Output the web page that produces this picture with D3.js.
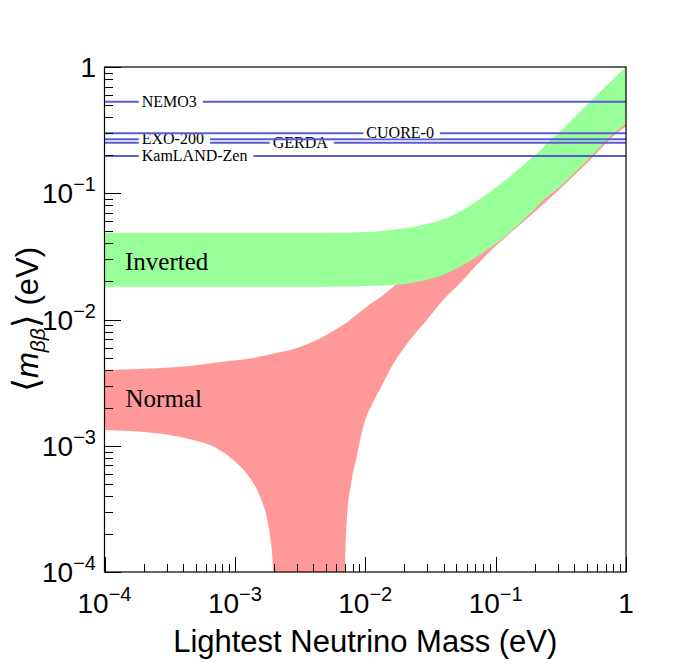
<!DOCTYPE html>
<html lang="en">
<head>
<meta charset="utf-8">
<title>Effective Majorana mass vs lightest neutrino mass</title>
<script src="https://d3js.org/d3.v7.min.js"></script>
<style>
  body { margin: 0; background: #fff; }
</style>
</head>
<body>
<div id="chart"></div>
<script>
// normal ordering band (eV)
var normMass = [1.00e-4, 2.51e-4, 4.53e-4, 7.25e-4, 9.72e-4, 1.31e-3, 1.56e-3, 1.75e-3, 1.88e-3, 1.97e-3,
                2.01e-3, 2.65e-3, 4.76e-3, 6.87e-3, 6.99e-3, 7.20e-3, 7.87e-3, 8.59e-3, 9.65e-3, 1.12e-2,
                1.30e-2, 1.64e-2, 2.20e-2, 2.96e-2, 3.96e-2, 5.32e-2, 7.15e-2, 9.58e-2, 0.163, 0.294,
                0.529, 0.847, 1.0];
var normHigh = [0.00398, 0.00411, 0.00428, 0.00456, 0.00473, 0.00491, 0.00509, 0.00522, 0.00531, 0.00536,
                0.00539, 0.00573, 0.00731, 0.00916, 0.00926, 0.00943, 0.01018, 0.01095, 0.0120, 0.01351,
                0.01494, 0.01819, 0.02378, 0.02853, 0.03424, 0.04111, 0.05116, 0.06368, 0.0917, 0.1585,
                0.306, 0.509, 0.600];
var normLow  = [0.001333, 0.001255, 0.001125, 0.000954, 0.000771, 0.000552, 0.000395, 0.000274, 0.000179, 0.000100,
                1e-6, 1e-6, 1e-6, 1e-6, 0.000100, 0.000243, 0.000535, 0.000819, 0.001416, 0.00210,
                0.002815, 0.00444, 0.00688, 0.00991, 0.01427, 0.01935, 0.0270, 0.0366, 0.0592, 0.1023,
                0.1824, 0.2984, 0.338];

// inverted ordering band
var invMass = [1.00e-4, 4.91e-3, 9.95e-3, 1.64e-2, 2.96e-2, 4.21e-2, 5.32e-2, 7.15e-2, 9.04e-2, 0.108,
               0.163, 0.246, 0.294, 0.529, 0.847, 1.0];
var invHigh = [0.0484, 0.0484, 0.0493, 0.0515, 0.0572, 0.0638, 0.0716, 0.0866, 0.1023, 0.1175,
               0.1665, 0.2445, 0.290, 0.530, 0.852, 1.0];
var invLow  = [0.01819, 0.01819, 0.01842, 0.01876, 0.0206, 0.02314, 0.0262, 0.0314, 0.0368, 0.0421,
               0.0612, 0.0925, 0.1075, 0.1915, 0.313, 0.356];

// experimental limits (eV), in drawing order
var expNames  = ["NEMO3", "GERDA", "EXO-200", "CUORE-0", "KamLAND-Zen"];
var expLimits = [0.531, 0.2514, 0.2675, 0.2985, 0.1973];
var expLabelAt = [1.93e-4, 1.95e-3, 1.93e-4, 1.02e-2, 1.93e-4];

var majorTicks = [1e-4, 1e-3, 1e-2, 1e-1, 1];
var tickExp = ["\u22124", "\u22123", "\u22122", "\u22121", ""];

var width = 696, height = 672;
var margin = {top: 67, right: 70, bottom: 100, left: 104.5};

var svg = d3.select("#chart").append("svg")
    .attr("width", width).attr("height", height);

var x = d3.scaleLog().domain([1e-4, 1]).range([margin.left, width - margin.right]);
var y = d3.scaleLog().domain([1e-4, 1]).range([height - margin.bottom, margin.top]);

svg.append("clipPath").attr("id", "frame")
  .append("rect")
    .attr("x", x(1e-4)).attr("y", y(1))
    .attr("width", x(1) - x(1e-4)).attr("height", y(1e-4) - y(1));

var area = d3.area()
    .x(function(d) { return x(d[0]); })
    .y0(function(d) { return y(d[1]); })
    .y1(function(d) { return y(d[2]); })
    .curve(d3.curveMonotoneX);

var bands = svg.append("g").attr("clip-path", "url(#frame)");
bands.append("path")
    .datum(d3.zip(normMass, normLow, normHigh))
    .attr("fill", "#ff9999")
    .attr("d", area);
bands.append("path")
    .datum(d3.zip(invMass, invLow, invHigh))
    .attr("fill", "#99ff99")
    .attr("d", area);

// limit lines with their white-boxed labels
var limits = svg.append("g");
expNames.forEach(function(name, i) {
  var yy = y(expLimits[i]);
  limits.append("line")
      .attr("x1", x(1e-4)).attr("x2", x(1))
      .attr("y1", yy).attr("y2", yy)
      .attr("stroke", "#5b5bd6").attr("stroke-width", 2);
  var box = limits.append("rect").attr("fill", "#fff");
  var t = limits.append("text")
      .attr("x", x(expLabelAt[i])).attr("y", yy + 5)
      .attr("font-family", "Liberation Serif, Times New Roman, serif")
      .attr("font-size", 16)
      .text(name);
  var len = t.node().getComputedTextLength();
  box.attr("x", x(expLabelAt[i]) - 3).attr("y", yy - 5)
     .attr("width", len + 9).attr("height", 10);
});

svg.append("text")
    .attr("x", 125).attr("y", 270)
    .attr("font-family", "Liberation Serif, Times New Roman, serif")
    .attr("font-size", 25)
    .text("Inverted");
svg.append("text")
    .attr("x", 125.5).attr("y", 407)
    .attr("font-family", "Liberation Serif, Times New Roman, serif")
    .attr("font-size", 25)
    .text("Normal");

// ticks, inside the frame
var minor = x.ticks().filter(function(t) { return majorTicks.indexOf(t) < 0; });

function ticks(axis, vals, size) {
  return function(g) {
    g.call(axis.tickValues(vals).tickSize(-size).tickSizeOuter(0).tickFormat(""));
    g.select(".domain").remove();
    g.selectAll(".tick line").attr("stroke", "#000").attr("shape-rendering", "crispEdges");
  };
}

svg.append("g").attr("transform", "translate(0," + y(1e-4) + ")")
    .call(ticks(d3.axisBottom(x), minor, 8));
svg.append("g").attr("transform", "translate(0," + y(1e-4) + ")")
    .call(ticks(d3.axisBottom(x), majorTicks, 15));
svg.append("g").attr("transform", "translate(" + x(1e-4) + ",0)")
    .call(ticks(d3.axisLeft(y), minor, 8));
svg.append("g").attr("transform", "translate(" + x(1e-4) + ",0)")
    .call(ticks(d3.axisLeft(y), majorTicks, 16));

svg.append("rect")
    .attr("x", x(1e-4)).attr("y", y(1))
    .attr("width", x(1) - x(1e-4)).attr("height", y(1e-4) - y(1))
    .attr("fill", "none").attr("stroke", "#000").attr("stroke-width", 1.2);

var labelFont = "Liberation Sans, Arial, Helvetica, sans-serif";

function powLabel(sel, i) {
  if (tickExp[i] === "") { sel.text("1"); return; }
  sel.append("tspan").text("10");
  sel.append("tspan").attr("dy", -12).attr("font-size", 20).text(tickExp[i]);
}

majorTicks.forEach(function(t, i) {
  svg.append("text")
      .attr("x", x(t)).attr("y", 612.5)
      .attr("text-anchor", "middle")
      .attr("font-family", labelFont).attr("font-size", 28)
      .call(powLabel, i);
  svg.append("text")
      .attr("x", 96).attr("y", y(t) + 10)
      .attr("text-anchor", "end")
      .attr("font-family", labelFont).attr("font-size", 28)
      .call(powLabel, i);
});

svg.append("text")
    .attr("x", (x(1e-4) + x(1)) / 2).attr("y", 652)
    .attr("text-anchor", "middle")
    .attr("font-family", labelFont).attr("font-size", 31)
    .text("Lightest Neutrino Mass (eV)");

var yt = svg.append("text")
    .attr("transform", "translate(38," + (y(1e-4) + y(1)) / 2 + ") rotate(-90)")
    .attr("text-anchor", "middle")
    .attr("font-family", labelFont).attr("font-size", 31);
yt.append("tspan").attr("font-size", 36).attr("font-family", "DejaVu Sans, sans-serif").text("\u27E8");
yt.append("tspan").attr("font-style", "italic").text("m");
yt.append("tspan").attr("font-style", "italic").attr("font-size", 21).attr("dy", 7).text("\u03B2\u03B2");
yt.append("tspan").attr("font-size", 36).attr("font-family", "DejaVu Sans, sans-serif").attr("dy", -7).text("\u27E9");
yt.append("tspan").text(" (eV)");
</script>
</body>
</html>
